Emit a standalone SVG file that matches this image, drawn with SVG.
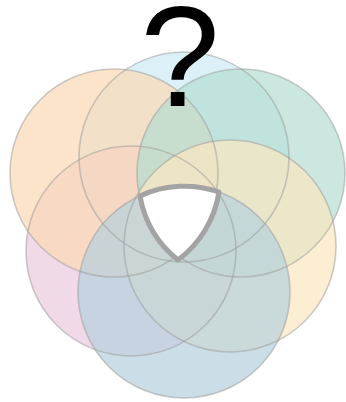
<svg xmlns="http://www.w3.org/2000/svg" width="346" height="402" viewBox="0 0 346 402">
  <style>
    .f { fill-opacity: 0.7; stroke: none; }
    .s { fill: none; stroke: #9a9a9a; stroke-opacity: 0.5; stroke-width: 1.6; }
    .q { font-family: "Liberation Sans", Arial, sans-serif; font-size: 143px; fill: #000; }
  </style>
  <defs>
    <circle id="cP" cx="131" cy="251" r="105"/>
    <circle id="cBB" cx="184" cy="292" r="106"/>
    <circle id="cO" cx="114" cy="173" r="104"/>
    <circle id="cTB" cx="184" cy="157" r="105"/>
    <circle id="cT" cx="241" cy="173" r="104"/>
    <circle id="cY" cx="230" cy="246" r="106"/>
  </defs>
  <rect width="346" height="402" fill="#ffffff"/>
  <g id="circles">
    <g id="fills" opacity="0.286">
      <use href="#cTB" class="f" fill="#50b9dc"/>
      <use href="#cP" class="f" fill="#be4b8c"/>
      <use href="#cO" class="f" fill="#f57d00"/>
      <use href="#cT" class="f" fill="#008c64"/>
      <use href="#cY" class="f" fill="#f5af28"/>
      <use href="#cBB" class="f" fill="#005f8c"/>
    </g>
    <g id="outlines">
      <use href="#cP" class="s"/>
      <use href="#cBB" class="s"/>
      <use href="#cO" class="s"/>
      <use href="#cTB" class="s"/>
      <use href="#cT" class="s"/>
      <use href="#cY" class="s"/>
    </g>
  </g>
  <g id="center">
    <path d="M 140 196 A 106 106 0 0 1 219 192 A 105 105 0 0 1 178 260 A 105 105 0 0 1 140 196 Z" fill="#ffffff" stroke="#a3a3a3" stroke-width="5" stroke-linejoin="round"/>
  </g>
  <g id="question">
    <text class="q" x="180" y="106" text-anchor="middle">?</text>
  </g>
</svg>
